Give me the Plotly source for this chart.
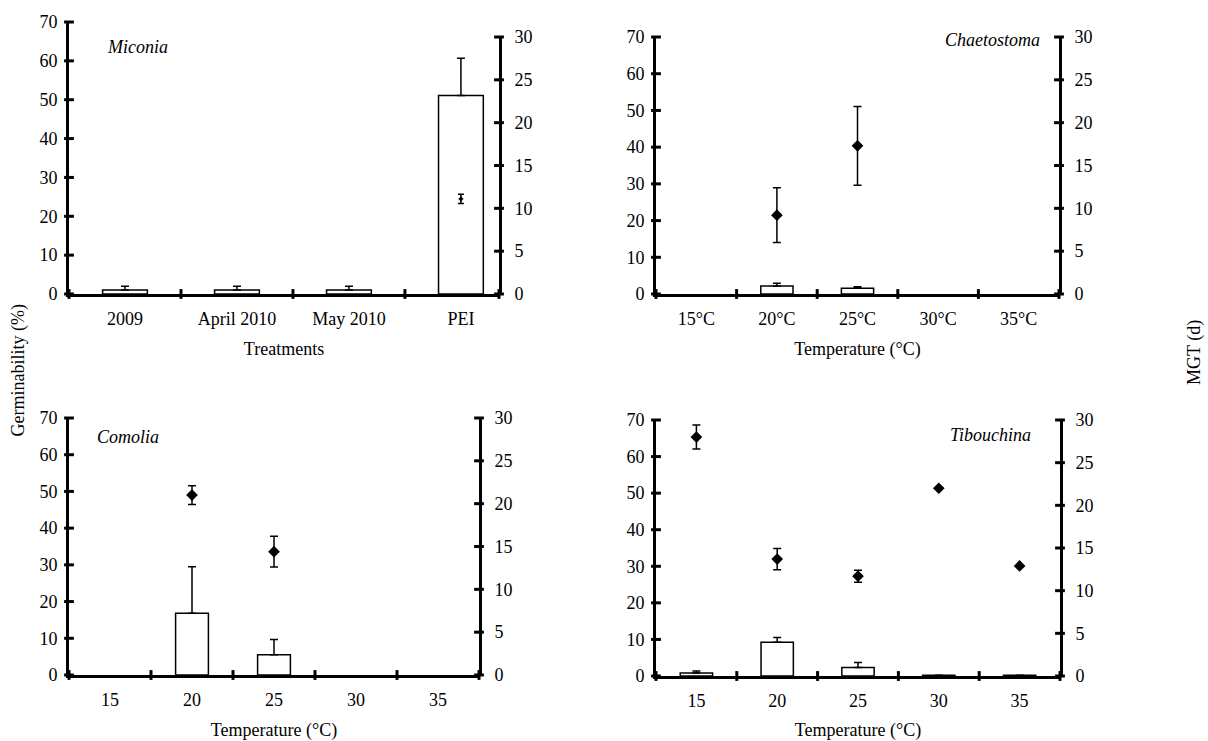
import plotly.graph_objects as go

W, H = 1208, 741
FONT = "Liberation Serif"

# ---------------- data ----------------
germ_ticks = [0, 10, 20, 30, 40, 50, 60, 70]
mgt_ticks = [0, 5, 10, 15, 20, 25, 30]

mic_labels = ["2009", "April 2010", "May 2010", "PEI"]
mic_germ = [1.0, 1.0, 1.0, 51.1]
mic_germ_err = [1.0, 1.0, 1.0, 9.6]
mic_mgt = [None, None, None, 11.1]
mic_mgt_err = [None, None, None, 0.55]

temp_labels_c = ["15°C", "20°C", "25°C", "30°C", "35°C"]
temp_labels = ["15", "20", "25", "30", "35"]

cha_germ = [None, 2.2, 1.6, None, None]
cha_germ_err = [None, 0.7, 0.4, None, None]
cha_mgt = [None, 9.2, 17.3, None, None]
cha_mgt_err = [None, 3.2, 4.6, None, None]

com_germ = [None, 16.8, 5.5, None, None]
com_germ_err = [None, 12.7, 4.2, None, None]
com_mgt = [None, 21.0, 14.4, None, None]
com_mgt_err = [None, 1.1, 1.8, None, None]

tib_germ = [0.8, 9.2, 2.3, 0.2, 0.2]
tib_germ_err = [0.6, 1.3, 1.4, None, None]
tib_mgt = [28.0, 13.7, 11.7, 22.0, 12.9]
tib_mgt_err = [1.4, 1.25, 0.7, None, None]

# ---------------- panel layout (pixels) ----------------
panels = [
    dict(name="Miconia", labels=mic_labels, germ=mic_germ, germ_err=mic_germ_err,
         mgt=mic_mgt, mgt_err=mic_mgt_err, xmax=3.34, xpx=(69, 499),
         ypx_left=(294, 22), ypx_right=(294, 37), title="Treatments",
         dsize=4, dcap=3, ann=(137, 47)),
    dict(name="Chaetostoma", labels=temp_labels_c, germ=cha_germ, germ_err=cha_germ_err,
         mgt=cha_mgt, mgt_err=cha_mgt_err, xmax=4.5, xpx=(656, 1059),
         ypx_left=(294, 37), ypx_right=(294, 37), title="Temperature (°C)",
         dsize=9, dcap=4, ann=(992, 40)),
    dict(name="Comolia", labels=temp_labels, germ=com_germ, germ_err=com_germ_err,
         mgt=com_mgt, mgt_err=com_mgt_err, xmax=4.5, xpx=(69, 479),
         ypx_left=(675, 418), ypx_right=(675, 418), title="Temperature (°C)",
         dsize=9, dcap=4, ann=(128, 437)),
    dict(name="Tibouchina", labels=temp_labels, germ=tib_germ, germ_err=tib_germ_err,
         mgt=tib_mgt, mgt_err=tib_mgt_err, xmax=4.5, xpx=(656, 1060),
         ypx_left=(676, 420), ypx_right=(676, 420), title="Temperature (°C)",
         dsize=9, dcap=4, ann=(990, 435)),
]

fig = go.Figure()
layout = dict(width=W, height=H, margin=dict(l=0, r=0, t=0, b=0),
              paper_bgcolor="white", plot_bgcolor="rgba(0,0,0,0)",
              showlegend=False, font=dict(family=FONT, size=18, color="black"))
annotations = []

tickfont = dict(family=FONT, size=18, color="black")

for k, p in enumerate(panels, start=1):
    xa = "x" if k == 1 else f"x{k}"
    yl_i, yr_i = 2 * k - 1, 2 * k
    yl = "y" if yl_i == 1 else f"y{yl_i}"
    yr = f"y{yr_i}"
    n = len(p["labels"])
    xs = list(range(n))

    # bars (germinability)
    fig.add_trace(go.Bar(
        x=xs, y=p["germ"], width=0.4, xaxis=xa, yaxis=yl,
        marker=dict(color="white", line=dict(color="black", width=1.5)),
        error_y=dict(type="data", array=p["germ_err"], arrayminus=[0] * n,
                     symmetric=False, color="black", thickness=1.5, width=4),
        hoverinfo="skip"))
    # MGT diamonds
    fig.add_trace(go.Scatter(
        x=xs, y=p["mgt"], mode="markers", xaxis=xa, yaxis=yr,
        marker=dict(symbol="diamond", size=p["dsize"], color="black"),
        error_y=dict(type="data", array=p["mgt_err"], color="black",
                     thickness=1.5, width=p["dcap"]),
        cliponaxis=False, hoverinfo="skip"))

    # crossing tick marks drawn as markers on the axes
    fig.add_trace(go.Scatter(
        x=[-0.5] * len(germ_ticks), y=germ_ticks, mode="markers", xaxis=xa, yaxis=yl,
        marker=dict(symbol="line-ew", size=7, line=dict(color="black", width=3)),
        cliponaxis=False, hoverinfo="skip"))
    fig.add_trace(go.Scatter(
        x=[p["xmax"]] * len(mgt_ticks), y=mgt_ticks, mode="markers", xaxis=xa, yaxis=yr,
        marker=dict(symbol="line-ew", size=7, line=dict(color="black", width=3)),
        cliponaxis=False, hoverinfo="skip"))
    bounds = [i - 0.5 for i in range(n + 1) if i - 0.5 < p["xmax"] - 1e-9] + [p["xmax"]]
    fig.add_trace(go.Scatter(
        x=bounds, y=[0] * len(bounds), mode="markers", xaxis=xa, yaxis=yl,
        marker=dict(symbol="line-ns", size=7, line=dict(color="black", width=3)),
        cliponaxis=False, hoverinfo="skip"))

    x0, x1 = p["xpx"]
    xkey = "xaxis" if k == 1 else f"xaxis{k}"
    ylkey = "yaxis" if yl_i == 1 else f"yaxis{yl_i}"
    yrkey = f"yaxis{yr_i}"
    layout[xkey] = dict(
        domain=[x0 / W, x1 / W], anchor=yl, range=[-0.5, p["xmax"]],
        tickmode="array", tickvals=xs, ticktext=p["labels"], ticks="",
        showline=True, linewidth=3, linecolor="black", showgrid=False, zeroline=False,
        tickfont=tickfont, ticklabelstandoff=6, automargin=False,
        title=dict(text=p["title"], font=dict(family=FONT, size=18, color="black"),
                   standoff=15))
    yb, yt = p["ypx_left"]
    layout[ylkey] = dict(
        domain=[1 - yb / H, 1 - yt / H], anchor=xa, range=[0, 70], side="left",
        tickmode="array", tickvals=germ_ticks, ticks="",
        showline=True, linewidth=3, linecolor="black", showgrid=False, zeroline=False,
        tickfont=tickfont, ticklabelstandoff=5, automargin=False)
    yb2, yt2 = p["ypx_right"]
    layout[yrkey] = dict(
        domain=[1 - yb2 / H, 1 - yt2 / H], anchor=xa, range=[0, 30], side="right",
        tickmode="array", tickvals=mgt_ticks, ticks="",
        showline=True, linewidth=3, linecolor="black", showgrid=False, zeroline=False,
        tickfont=tickfont, ticklabelstandoff=9, automargin=False)

    ax, ay = p["ann"]
    annotations.append(dict(
        text=f"<i>{p['name']}</i>", x=ax / W, y=1 - ay / H, xref="paper", yref="paper",
        xanchor="center", yanchor="middle", showarrow=False,
        font=dict(family=FONT, size=18, color="black")))

annotations.append(dict(text="Germinability (%)", x=18 / W, y=0.5, xref="paper", yref="paper",
                        textangle=-90, showarrow=False, xanchor="center", yanchor="middle",
                        font=dict(family=FONT, size=18, color="black")))
annotations.append(dict(text="MGT (d)", x=1195 / W, y=1 - 353 / H, xref="paper", yref="paper",
                        textangle=-90, showarrow=False, xanchor="center", yanchor="middle",
                        font=dict(family=FONT, size=18, color="black")))
layout["annotations"] = annotations

fig.update_layout(**layout)
fig.write_html("out.html", config={"displayModeBar": False},
               post_script="document.body.style.margin='0';document.body.style.overflow='hidden';")
